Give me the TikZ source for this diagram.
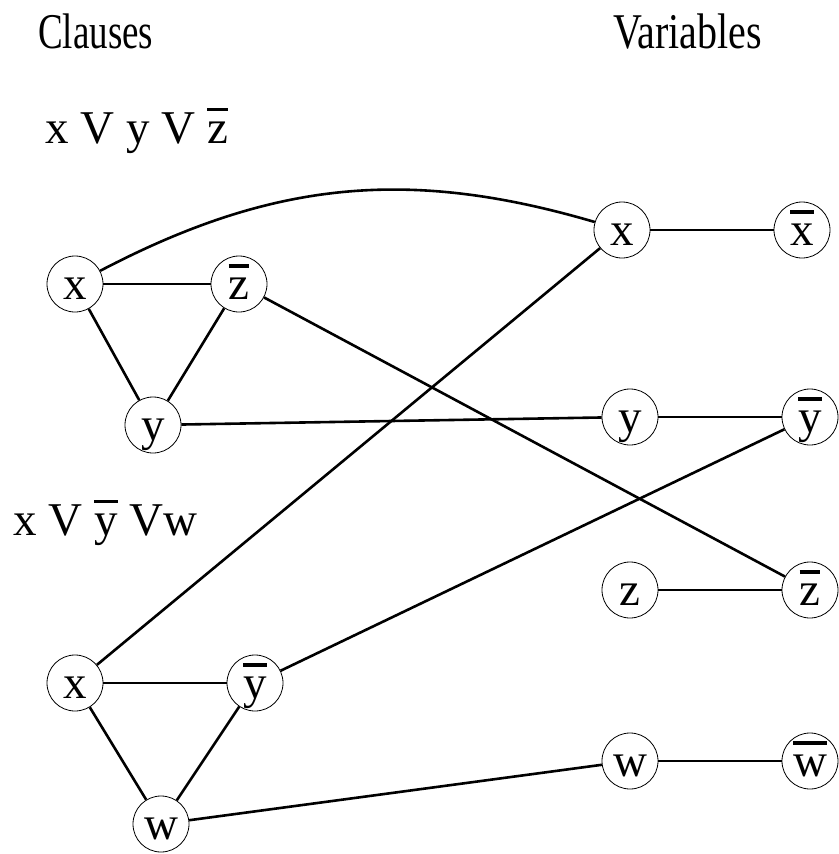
\documentclass[tikz,border=0pt]{standalone}
\usepackage{fontspec}
\usepackage{graphicx}
\setmainfont{Liberation Serif}
\newcommand{\ob}[1]{\setbox0\hbox{#1}\rlap{\hbox to \wd0{\hss\rule[0.68em]{\wd0}{0.065em}\hss}}\box0\relax}
\begin{document}
\begin{tikzpicture}[x=1pt,y=-1pt,
  v/.style={circle,draw,line width=0.8pt,minimum size=56pt,inner sep=0pt,
    font=\fontsize{47}{50}\selectfont,text height=31pt,text depth=0pt},
  lab/.style={font=\fontsize{47}{50}\selectfont,anchor=base west,inner sep=0pt},
  ttl/.style={font=\fontsize{50}{54}\selectfont,anchor=base west,inner sep=0pt},
  con/.style={line width=2.6pt}]
\useasboundingbox (0,0) rectangle (838,854);
% titles
\node[ttl] (tc) at (38,48) {\scalebox{0.74}[1]{Clauses}};
\node[ttl] (tv) at (613,48) {\scalebox{0.8}[1]{Variables}};
\node[lab] (f1) at (45,143) {x V y V \ob{z}};
\node[lab] (f2) at (13,535) {x V \ob{y} Vw};
% clause 1
\node[v] (c1x) at (75,284) {x};
\node[v] (c1z) at (239,284) {\ob{z}};
\node[v] (c1y) at (153,425) {y};
% clause 2
\node[v] (c2x) at (75,683) {x};
\node[v] (c2y) at (255,683) {\ob{y}};
\node[v] (c2w) at (161,824) {w};
% variables
\node[v] (vx) at (622,230) {x};
\node[v] (vxn) at (802,230) {\ob{x}};
\node[v] (vy) at (630,417) {y};
\node[v] (vyn) at (810,417) {\ob{y}};
\node[v] (vz) at (630,590) {z};
\node[v] (vzn) at (810,590) {\ob{z}};
\node[v] (vw) at (630,761) {w};
\node[v] (vwn) at (810,761) {\ob{w}};
% clause triangles
\draw[con] (c1x) -- (c1z);
\draw[con] (c1x) -- (c1y);
\draw[con] (c1z) -- (c1y);
\draw[con] (c2x) -- (c2y);
\draw[con] (c2x) -- (c2w);
\draw[con] (c2y) -- (c2w);
% variable pairs
\draw[con] (vx) -- (vxn);
\draw[con] (vy) -- (vyn);
\draw[con] (vz) -- (vzn);
\draw[con] (vw) -- (vwn);
% cross links
\draw[con] (c1x) to[bend left=22] (vx);
\draw[con] (c1y) -- (vy);
\draw[con] (c1z) -- (vzn);
\draw[con] (c2x) -- (vx);
\draw[con] (c2y) -- (vyn);
\draw[con] (c2w) -- (vw);
\end{tikzpicture}
\end{document}
